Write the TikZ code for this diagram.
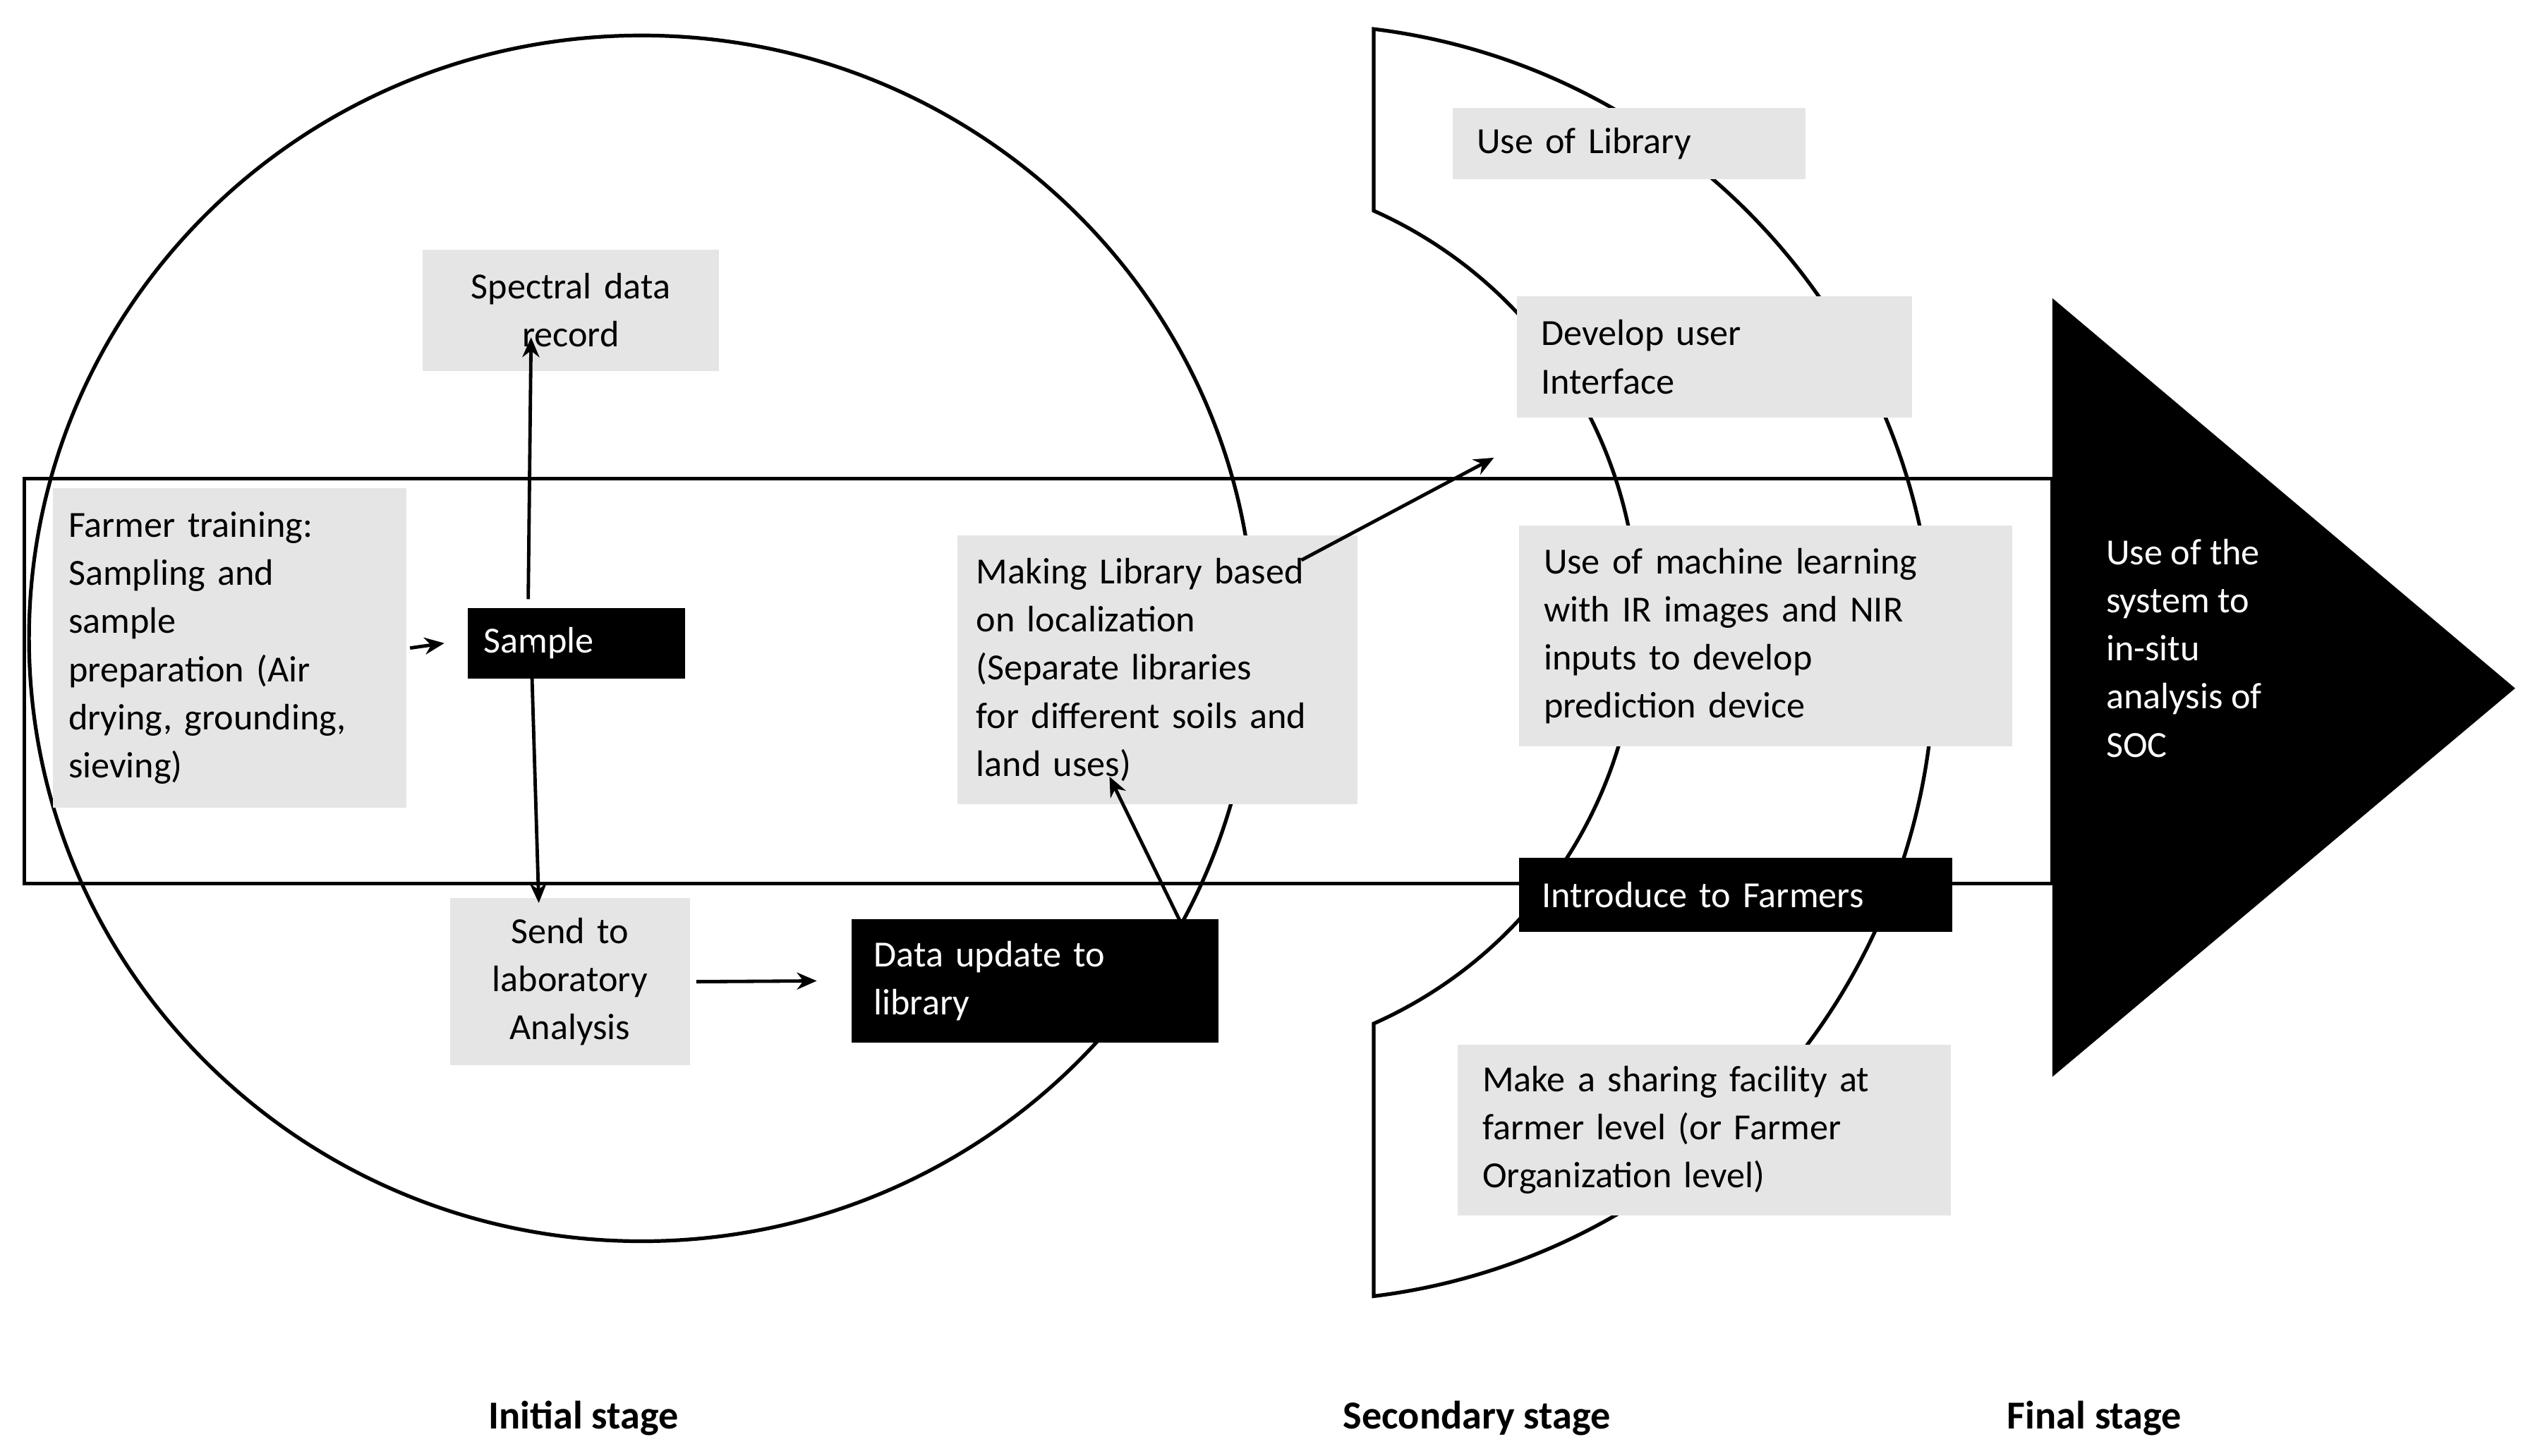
\documentclass[tikz,border=0pt]{standalone}
\usepackage{fontspec}
\setmainfont{Carlito}
\usetikzlibrary{arrows.meta}
\begin{document}
\begin{tikzpicture}[x=0.02cm,y=-0.02cm,
  every node/.style={font=\fontsize{13}{17}\selectfont},
  box/.style={inner sep=0pt,align=left},
  gbox/.style={box,fill=black!10},
  bbox/.style={box,fill=black,text=white},
  arr/.style={-{Stealth[length=7pt,width=6pt]},line width=1.2pt},
  outline/.style={line width=1.3pt},
  stage/.style={font=\fontsize{14}{17}\selectfont\bfseries}]
\useasboundingbox (0,0) rectangle (1568,903);
% shapes
\draw[outline] (398,396) ellipse[x radius=380,y radius=374];
\draw[outline] (15,297) rectangle (1273,548);
\draw[outline] (852,18) arc[start angle=-83,end angle=83,radius=396] -- (852,635)
  arc[start angle=66,end angle=-66,radius=276] -- cycle;
\fill (1273,185) -- (1560,427) -- (1273,668) -- cycle;
% nodes
\node[gbox,minimum width=3.68cm,minimum height=1.5cm,text width=3.3cm,align=center] (spec) at (354,192.5) {Spectral data\\record};
\node[gbox,minimum width=4.38cm,minimum height=3.96cm,text width=4.0cm] (farm) at (142.5,402) {Farmer training:\\Sampling and\\sample\\preparation (Air\\drying, grounding,\\sieving)};
\node[bbox,minimum width=2.7cm,minimum height=0.88cm,text width=2.3cm] (samp) at (357.5,399) {Sample};
\node[gbox,minimum width=2.98cm,minimum height=2.08cm,text width=2.6cm,align=center] (send) at (353.5,609) {Send to\\laboratory\\Analysis};
\node[bbox,minimum width=4.56cm,minimum height=1.54cm,text width=4.0cm] (upd) at (642,608.5) {Data update to\\library};
\node[gbox,minimum width=4.96cm,minimum height=3.34cm,text width=4.5cm] (make) at (718,415.5) {Making Library based\\on localization\\(Separate libraries\\for different soils and\\land uses)};
\node[gbox,minimum width=4.38cm,minimum height=0.88cm,text width=3.78cm] (use) at (1010.5,89) {Use of Library};
\node[gbox,minimum width=4.9cm,minimum height=1.5cm,text width=4.3cm] (dev) at (1063.5,221.5) {Develop user\\Interface};
\node[gbox,minimum width=6.12cm,minimum height=2.74cm,text width=5.5cm] (ml) at (1095,394.5) {Use of machine learning\\with IR images and NIR\\inputs to develop\\prediction device};
\node[bbox,minimum width=5.38cm,minimum height=0.92cm,text width=4.8cm] (intro) at (1076.5,555) {Introduce to Farmers};
\node[gbox,minimum width=6.12cm,minimum height=2.12cm,text width=5.5cm] (share) at (1057,701) {Make a sharing facility at\\farmer level (or Farmer\\Organization level)};
\node[box,text=white,anchor=west] (soc) at (1306,402) {Use of the\\system to\\in-situ\\analysis of\\SOC};
% stages
\node[stage] (s1) at (362,880) {Initial stage};
\node[stage] (s2) at (916,880) {Secondary stage};
\node[stage] (s3) at (1299,880) {Final stage};
% arrows
\draw[arr] (farm.east) ++(2,0) -- ([xshift=-8]samp.west);
\draw[arr] ([xshift=-17]samp.north) ++(0,-5) -- ([xshift=-14,yshift=12]spec.south);
\draw[arr] ([xshift=-16,yshift=12]samp.south) -- ([xshift=-11,yshift=-2]send.north);
\draw[arr] ([xshift=2]send.east) -- ([xshift=-12]upd.west);
\draw[arr] ([xshift=59,yshift=-17]upd.north) -- ([xshift=-17,yshift=10]make.south);
\draw[arr] ([xshift=-20,yshift=-9]make.north east) -- ([xshift=-8,yshift=-14]dev.south west);
\end{tikzpicture}
\end{document}
